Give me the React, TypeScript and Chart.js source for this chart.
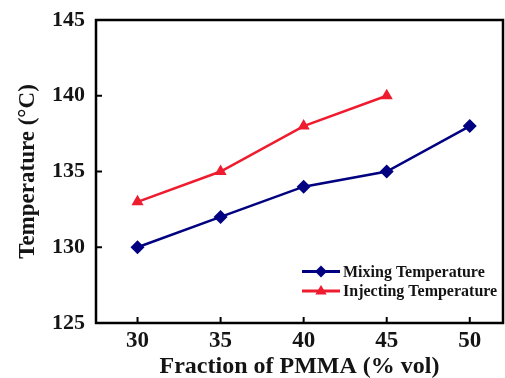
import React, { useEffect, useRef } from 'react';
import { Chart, registerables } from 'chart.js';

Chart.register(...registerables);

const fractions = [30, 35, 40, 45, 50];
const mixingTemps = [130, 132, 134, 135, 138];
const injectingFractions = [30, 35, 40, 45];
const injectingTemps = [133, 135, 138, 140];
const yTicks = [125, 130, 135, 140, 145];
const seriesNames = ['Mixing Temperature', 'Injecting Temperature'];
const xTitle = 'Fraction of PMMA (% vol)';
const yTitle = 'Temperature (\u00B0C)';

const BLUE = '#000080';
const RED = '#ee1c2e';
const TEXT = '#141414';
const FONT = '"Liberation Serif", "Times New Roman", serif';

function drawMarker(ctx: CanvasRenderingContext2D, style: string, cx: number, cy: number, r: number, color: string) {
  ctx.save();
  ctx.fillStyle = color;
  ctx.beginPath();
  if (style === 'rectRot') {
    ctx.moveTo(cx, cy - r);
    ctx.lineTo(cx + r, cy);
    ctx.lineTo(cx, cy + r);
    ctx.lineTo(cx - r, cy);
  } else {
    ctx.moveTo(cx, cy - r);
    ctx.lineTo(cx + r * 0.95, cy + r * 0.6);
    ctx.lineTo(cx - r * 0.95, cy + r * 0.6);
  }
  ctx.closePath();
  ctx.fill();
  ctx.restore();
}

const framePlugin = {
  id: 'frame',
  afterDatasetsDraw(chart: any) {
    const { ctx, chartArea, scales } = chart;
    const { left, top, right, bottom } = chartArea;
    const x = scales.x;
    const y = scales.y;
    ctx.save();
    ctx.strokeStyle = '#000';
    ctx.lineWidth = 2.5;
    ctx.strokeRect(left, top, right - left, bottom - top);
    ctx.lineWidth = 2;
    x.ticks.forEach((t: any) => {
      const px = x.getPixelForValue(t.value);
      ctx.beginPath();
      ctx.moveTo(px, bottom);
      ctx.lineTo(px, bottom - 6);
      ctx.stroke();
    });
    y.ticks.forEach((t: any) => {
      const py = y.getPixelForValue(t.value);
      ctx.beginPath();
      ctx.moveTo(left, py);
      ctx.lineTo(left + 6, py);
      ctx.stroke();
    });

    // legend
    const items = [
      { name: seriesNames[0], color: BLUE, style: 'rectRot' },
      { name: seriesNames[1], color: RED, style: 'triangle' },
    ];
    const lx = 302;
    const ly = 271.5;
    const rowH = 19.5;
    items.forEach((it, i) => {
      const yy = ly + i * rowH;
      ctx.strokeStyle = it.color;
      ctx.lineWidth = 3;
      ctx.beginPath();
      ctx.moveTo(lx, yy);
      ctx.lineTo(lx + 38, yy);
      ctx.stroke();
      drawMarker(ctx, it.style, lx + 19, yy, 6, it.color);
      ctx.fillStyle = TEXT;
      ctx.font = `bold 16px ${FONT}`;
      ctx.textBaseline = 'middle';
      ctx.textAlign = 'left';
      ctx.fillText(it.name, lx + 41, yy + 1);
    });
    ctx.restore();
  },
};

export default function App() {
  const ref = useRef<HTMLCanvasElement | null>(null);
  useEffect(() => {
    if (!ref.current) return;
    const chart = new Chart(ref.current, {
      type: 'line',
      data: {
        datasets: [
          {
            label: seriesNames[0],
            data: fractions.map((f, i) => ({ x: f, y: mixingTemps[i] })),
            borderColor: BLUE,
            backgroundColor: BLUE,
            borderWidth: 2.5,
            pointStyle: 'rectRot',
            pointRadius: 7,
            pointBorderWidth: 0,
            clip: false as any,
          },
          {
            label: seriesNames[1],
            data: injectingFractions.map((f, i) => ({ x: f, y: injectingTemps[i] })),
            borderColor: RED,
            backgroundColor: RED,
            borderWidth: 2.5,
            pointStyle: 'triangle',
            pointRadius: 7,
            pointBorderWidth: 0,
            clip: false as any,
          },
        ],
      },
      options: {
        animation: false,
        responsive: false,
        layout: { autoPadding: false, padding: { top: 20, right: 2, left: 0, bottom: 0 } },
        plugins: { legend: { display: false }, tooltip: { enabled: false } },
        scales: {
          x: {
            type: 'linear',
            min: 27.5,
            max: 52,
            afterBuildTicks: (s: any) => {
              s.ticks = fractions.map((v) => ({ value: v }));
            },
            afterFit: (s: any) => {
              s.height = 55;
            },
            grid: { display: false },
            border: { display: false },
            ticks: {
              color: TEXT,
              padding: -4,
              maxRotation: 0,
              font: { family: FONT, size: 23, weight: 'bold' },
              callback: (v: any) => String(v),
            },
            title: {
              display: true,
              text: xTitle,
              color: TEXT,
              padding: { top: 0, bottom: -3 },
              font: { family: FONT, size: 24, weight: 'bold' },
            },
          },
          y: {
            type: 'linear',
            min: 125,
            max: 145,
            afterBuildTicks: (s: any) => {
              s.ticks = yTicks.map((v) => ({ value: v }));
            },
            afterFit: (s: any) => {
              s.width = 96;
            },
            grid: { display: false },
            border: { display: false },
            ticks: {
              color: TEXT,
              padding: 3,
              font: { family: FONT, size: 22, weight: 'bold' },
              callback: (v: any) => String(v),
            },
            title: {
              display: true,
              text: yTitle,
              color: TEXT,
              padding: { top: 14, bottom: 0 },
              font: { family: FONT, size: 23, weight: 'bold' },
            },
          },
        },
      },
      plugins: [framePlugin],
    } as any);
    return () => chart.destroy();
  }, []);
  return (
    <div style={{ position: 'fixed', left: 0, top: 0, width: 505, height: 378, background: '#fff' }}>
      <canvas ref={ref} width={505} height={378} style={{ display: 'block' }} />
    </div>
  );
}
